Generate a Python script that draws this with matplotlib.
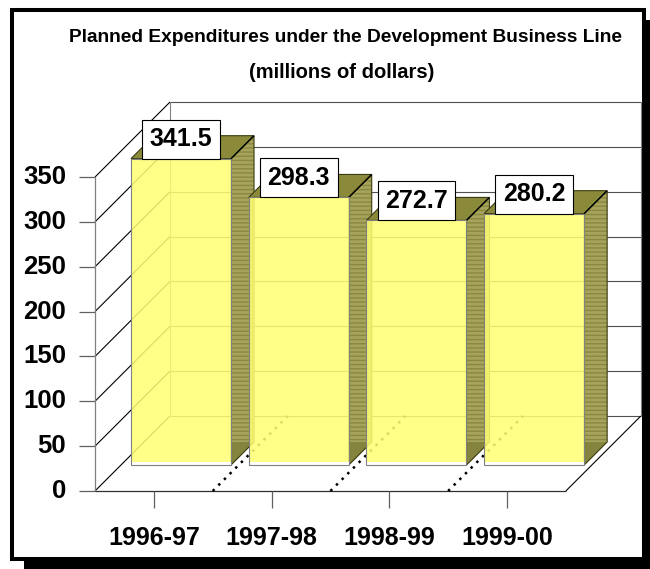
import matplotlib
matplotlib.use("Agg")
import matplotlib.pyplot as plt
from matplotlib.patches import Polygon, Rectangle
from matplotlib.transforms import IdentityTransform

categories = ["1996-97", "1997-98", "1998-99", "1999-00"]
values = [341.5, 298.3, 272.7, 280.2]
yticks = [0, 50, 100, 150, 200, 250, 300, 350]
title1 = "Planned Expenditures under the Development Business Line"
title2 = "(millions of dollars)"

plt.rcParams['font.family'] = ['Liberation Sans', 'DejaVu Sans']

W, H = 650, 569
fig = plt.figure(figsize=(W / 100, H / 100), dpi=100)
fig.patch.set_facecolor("white")

# frame with drop shadow (pixel coords, origin bottom-left)
fig.patches.append(Rectangle((24, 0), 626, H - 20, facecolor="black", edgecolor="none",
                             transform=IdentityTransform(), zorder=-3))
fig.patches.append(Rectangle((12, H - 559), 632, 559 - 10, facecolor="white", edgecolor="black",
                             linewidth=2.9, transform=IdentityTransform(), zorder=-2))

ax = fig.add_axes([0, 0, 1, 1])
ax.set_xlim(-0.807, 4.715)
ax.set_ylim(-86.96, 547.38)
ax.set_axis_off()

DX, DV = 0.637, 83.6   # full depth of the box, in data units
n = len(categories)
ymax = yticks[-1]


def proj(x, z, v):
    return x + z * DX, v + z * DV


def line(pts, **kw):
    xs, ys = zip(*[proj(*p) for p in pts])
    ax.plot(xs, ys, solid_capstyle="butt", **kw)


def face(pts, **kw):
    p = Polygon([proj(*q) for q in pts], closed=True, **kw)
    ax.add_patch(p)


# back wall gridlines
for t in yticks:
    line([(0, 1, t), (n, 1, t)], color="#505050", lw=0.8, zorder=1)
line([(0, 1, 0), (0, 1, ymax)], color="#808080", lw=0.8, zorder=1)
line([(n, 1, 0), (n, 1, ymax)], color="#808080", lw=0.8, zorder=1)

# side wall diagonals and front axis
for t in yticks:
    line([(0, 0, t), (0, 1, t)], color="black", lw=0.8, zorder=1)
    line([(-0.136, 0, t), (0, 0, t)], color="#606060", lw=0.9, zorder=1)
    ax.text(-0.246, t, str(t), ha="right", va="center", fontsize=18.5, fontweight="bold")
line([(0, 0, 0), (0, 0, ymax)], color="#808080", lw=0.9, zorder=1)

# floor
line([(0, 0, 0), (n, 0, 0)], color="#303030", lw=0.9, zorder=1)
line([(n, 0, 0), (n, 1, 0)], color="black", lw=0.8, zorder=1)
for i in range(1, n):
    line([(i, 0, 0), (i, 1, 0)], color="black", lw=1.8, linestyle=(0, (1, 2.2)), zorder=1)

# category ticks and labels
for i, c in enumerate(categories):
    line([(i + 0.5, 0, 0), (i + 0.5, 0, -19)], color="#606060", lw=0.9, zorder=1)
    ax.text(i + 0.5, -52, c, ha="center", va="center", fontsize=18, fontweight="bold")

# bars
w = 0.85
z0, z1 = 0.347, 0.653
foot = (z1 - z0) * DV
for i, v in enumerate(values):
    xl = i + 0.51 - w / 2
    xr = i + 0.51 + w / 2
    face([(xl, z0, v), (xr, z0, v), (xr, z1, v), (xl, z1, v)],
         facecolor="#8A8A3A", edgecolor="#3A3A10", lw=0.8, zorder=3)
    face([(xr, z0, 0), (xr, z1, 0), (xr, z1, v), (xr, z0, v)],
         facecolor="#A6A45C", edgecolor="#8A8840", lw=0, hatch="----", zorder=3)
    face([(xr, z0, 0), (xr, z1, 0), (xr, z0, foot)],
         facecolor="#84843E", edgecolor="none", zorder=3)
    face([(xr, z0, 0), (xr, z1, 0), (xr, z1, v), (xr, z0, v)],
         facecolor="none", edgecolor="#3A3A10", lw=0.8, zorder=3)
    line([(xr, z0, v), (xr, z1, v)], color="black", lw=1.0, zorder=3)
    face([(xl, z0, 0), (xr, z0, 0), (xr, z0, v), (xl, z0, v)],
         facecolor="#FFFF73", edgecolor="none", alpha=0.86, zorder=4)
    face([(xl, z0, 0), (xr, z0, 0), (xr, z0, 3.5), (xl, z0, 3.5)],
         facecolor="white", edgecolor="none", zorder=4)
    face([(xl, z0, 0), (xr, z0, 0), (xr, z0, v), (xl, z0, v)],
         facecolor="none", edgecolor="#808080", lw=0.8, zorder=4)
    cx, cy = proj(i + 0.51, z0, v)
    ax.annotate(f"{v:.1f}", xy=(cx, cy), xytext=(0, 5.4), textcoords="offset points",
                ha="center", va="bottom", fontsize=18, fontweight="bold", zorder=6,
                bbox=dict(boxstyle="square,pad=0.3", facecolor="white", edgecolor="black", lw=0.8))

fig.text(346 / W, 1 - 37 / H, title1, ha="center", va="center", fontsize=13.8, fontweight="bold")
fig.text(342 / W, 1 - 73 / H, title2, ha="center", va="center", fontsize=14.5, fontweight="bold")

fig.savefig("out.png", dpi=100)
